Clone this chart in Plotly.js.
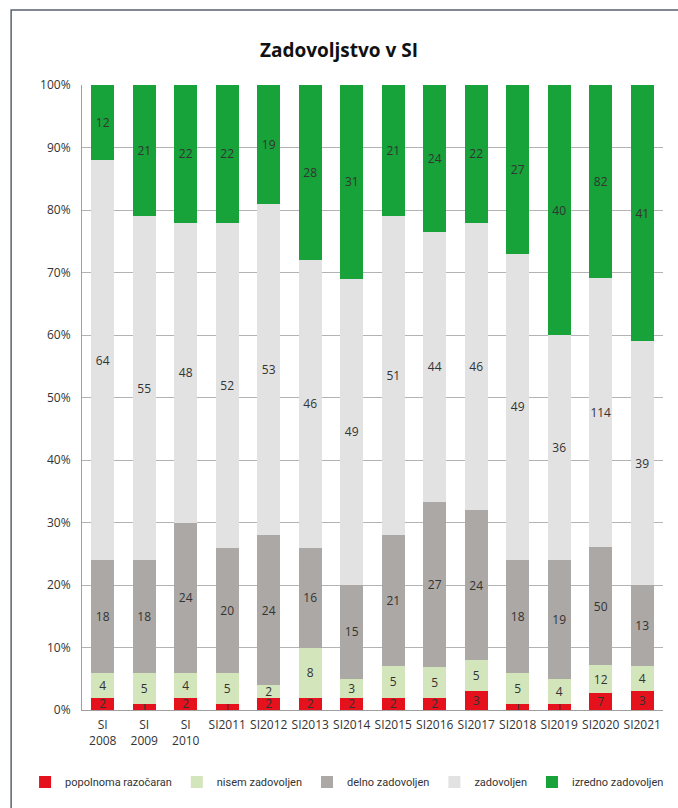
<!DOCTYPE html>
<html>
<head>
<meta charset="utf-8">
<script src="https://cdn.plot.ly/plotly-3.0.1.min.js"></script>
<style>html,body{margin:0;padding:0;background:#fff;}#chart{width:678px;height:808px;}</style>
</head>
<body>
<div id="chart"></div>
<script>
const categories = ["SI<br>2008","SI<br>2009","SI<br>2010","SI2011","SI2012","SI2013","SI2014","SI2015","SI2016","SI2017","SI2018","SI2019","SI2020","SI2021"];
const popolnomaRazocaran = [2,1,2,1,2,2,2,2,2,3,1,1,7,3];
const nisemZadovoljen   = [4,5,4,5,2,8,3,5,5,5,5,4,12,4];
const delnoZadovoljen   = [18,18,24,20,24,16,15,21,27,24,18,19,50,13];
const zadovoljen        = [64,55,48,52,53,46,49,51,44,46,49,36,114,39];
const izrednoZadovoljen = [12,21,22,22,19,28,31,21,24,22,27,40,82,41];
const seriesNames = ["popolnoma razočaran","nisem zadovoljen","delno zadovoljen","zadovoljen","izredno zadovoljen"];
const seriesColors = ["#e5111d","#d3e5bb","#aba8a5","#e2e2e2","#17a23a"];
const seriesValues = [popolnomaRazocaran,nisemZadovoljen,delnoZadovoljen,zadovoljen,izrednoZadovoljen];

const font = "'Open Sans', 'Liberation Sans', sans-serif";
const legendFont = "Roboto, 'Open Sans', sans-serif";
const traces = seriesValues.map((vals,i)=>({
  type:'bar',
  x: categories,
  y: vals,
  name: seriesNames[i],
  marker:{color: seriesColors[i], line:{width:0}},
  text: vals.map(String),
  textposition:'inside',
  insidetextanchor:'middle',
  textangle:0,
  constraintext:'none',
  textfont:{family:font, size:12, color:'#333'},
  hoverinfo:'skip'
}));

const layout = {
  width:678, height:808,
  margin:{l:82, r:15, t:85, b:98},
  barmode:'stack',
  barnorm:'percent',
  bargap:0.44,
  paper_bgcolor:'#fff',
  plot_bgcolor:'#fff',
  font:{family:font, size:12, color:'#333'},
  uniformtext:{mode:'show', minsize:12},
  title:{text:'<b>Zadovoljstvo v SI</b>', font:{family:font, size:19, color:'#111'}, x:0.5, xanchor:'center', y:0.938, yanchor:'middle'},
  xaxis:{
    type:'category', tickfont:{family:font, size:12, color:'#333'}, ticklabelstandoff:4,
    showline:true, linecolor:'#a0a0a0', linewidth:1, ticks:'', showgrid:false
  },
  yaxis:{
    range:[0,100], dtick:10, ticksuffix:'%', tickfont:{family:font, size:12, color:'#333'},
    showgrid:true, gridcolor:'#b3b3b3', gridwidth:1, ticklabelstandoff:8,
    showline:true, linecolor:'#a0a0a0', linewidth:1, ticks:'', zeroline:false
  },
  legend:{orientation:'h', x:-0.098, xanchor:'left', y:-0.092, yanchor:'top',
    font:{family:legendFont, size:11, color:'#333'}, traceorder:'normal', itemwidth:30,
    tracegroupgap:0},
  shapes:[{type:'rect', xref:'paper', yref:'paper', x0:-0.122, x1:1.04, y0:-0.2, y1:1.12,
    line:{color:'#5a6270', width:1.5}, fillcolor:'rgba(0,0,0,0)', layer:'below'}]
};
Plotly.newPlot('chart', traces, layout, {displayModeBar:false, staticPlot:true});
</script>
</body>
</html>
